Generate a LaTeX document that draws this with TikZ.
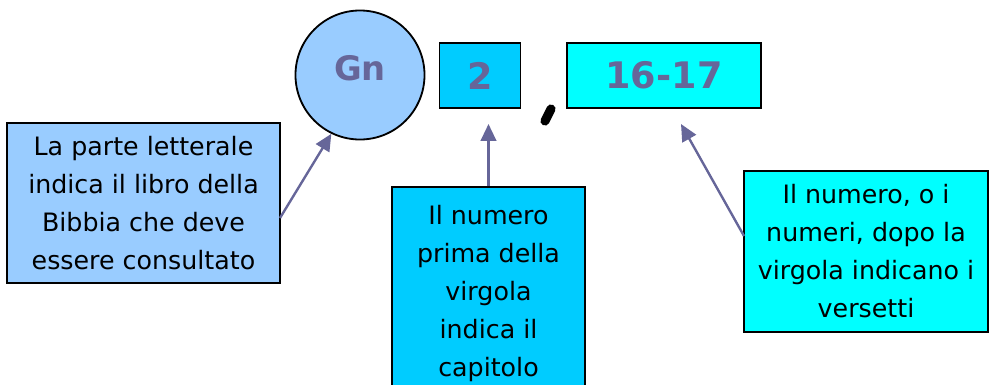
\documentclass[tikz,border=0pt]{standalone}
\usepackage{fontspec}
\setmainfont{DejaVu Sans}
\usetikzlibrary{arrows.meta}
\definecolor{celeste}{HTML}{99CCFF}
\definecolor{azzurro}{HTML}{00CCFF}
\definecolor{ciano}{HTML}{00FFFF}
\definecolor{viola}{HTML}{666699}
\begin{document}
\begin{tikzpicture}[x=0.025cm,y=-0.025cm,
		casella/.style={draw,line width=1.3pt,inner sep=0pt},
		sigla/.style={casella,text=viola,font=\fontsize{26}{30}\selectfont\bfseries},
		nota/.style={casella,align=center,font=\fontsize{18}{27}\selectfont},
		freccia/.style={viola,line width=1.7pt,-{Triangle[length=12pt,width=11pt]}}]
	\useasboundingbox (0,0) rectangle (989,384);
	% riferimento
	\node[casella,circle,fill=celeste,minimum size=3.225cm] (gn) at (360,75) {};
	\node[text=viola,font=\fontsize{24}{28}\selectfont\bfseries] (sgn) at (360,68) {Gn};
	\node[sigla,fill=azzurro,minimum width=2.025cm,minimum height=1.625cm] (cap) at (480,75.5) {2};
	\node[sigla,fill=ciano,minimum width=4.85cm,minimum height=1.625cm] (ver) at (664,75.5) {16-17};
	\draw[line width=6.5pt,line cap=round] (551,109)--(545,121);
	% spiegazioni
	\node[nota,fill=celeste,minimum width=6.825cm,minimum height=4cm] (n1) at (143.5,203)
		{La parte letterale\\indica il libro della\\Bibbia che deve\\essere consultato};
	\node[nota,fill=azzurro,minimum width=4.825cm,minimum height=5.325cm] (n2) at (488.5,293.5)
		{Il numero\\prima della\\virgola\\indica il\\capitolo};
	\node[nota,fill=ciano,minimum width=6.1cm,minimum height=4.025cm] (n3) at (866,251.5)
		{Il numero, o i\\numeri, dopo la\\virgola indicano i\\versetti};
	\path (280,218) coordinate (a1) (488.5,124) coordinate (p2)
		(744,236) coordinate (a3) (681,124) coordinate (p3);
	\draw[freccia] (a1)--(gn.244);
	\draw[freccia] (n2.north)--(p2);
	\draw[freccia] (a3)--(p3);
\end{tikzpicture}
\end{document}
